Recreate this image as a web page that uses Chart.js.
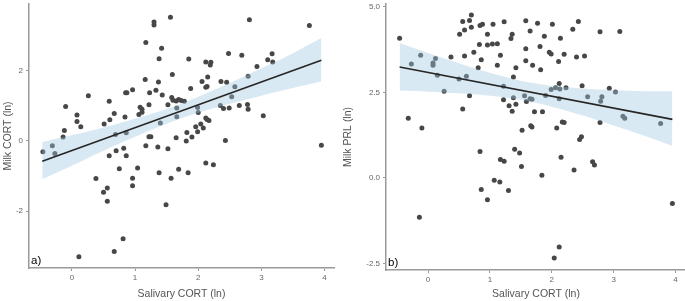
<!DOCTYPE html>
<html>
<head>
<meta charset="utf-8">
<script src="https://cdn.jsdelivr.net/npm/chart.js@4.4.1/dist/chart.umd.min.js"></script>
<style>
  html, body { margin: 0; padding: 0; background: #fff; overflow: hidden; }
  #panel_a { position: absolute; left: 0; top: 0; width: 340px; height: 301px; }
  #panel_b { position: absolute; left: 340px; top: 0; width: 350px; height: 301px; }
</style>
</head>
<body>
<div id="panel_a"><canvas id="chart_a"></canvas></div>
<div id="panel_b"><canvas id="chart_b"></canvas></div>
<script>
// panel a) salivary CORT vs milk CORT
let salivaryA = [-0.46, -0.31, -0.27, -0.14, -0.12, -0.10, 0.08, 0.08, 0.14, 0.26,
  0.38, 0.50, 0.56, 0.56, 0.51, 0.59, 0.60, 0.67, 0.69, 0.59,
  0.70, 0.75, 0.82, 0.84, 0.86, 0.86, 0.85, 0.87, 0.96, 0.96,
  0.96, 1.04, 1.08, 1.11, 1.11, 1.06, 1.16, 1.17, 1.30, 1.30,
  1.22, 1.23, 1.22, 1.25, 1.17, 1.33, 1.37, 1.38, 1.42, 1.43,
  1.40, 1.36, 1.38, 1.49, 1.52, 1.52, 1.56, 1.59, 1.57, 1.58,
  1.60, 1.65, 1.69, 1.73, 1.78, 1.66, 1.66, 1.65, 1.69, 1.82,
  1.81, 1.84, 1.85, 1.88, 1.90, 1.96, 1.99, 1.99, 2.00, 2.04,
  2.08, 2.12, 2.06, 2.12, 2.14, 2.17, 2.12, 2.14, 2.15, 2.12,
  2.24, 2.20, 2.19, 2.35, 2.40, 2.49, 2.36, 2.45, 2.43, 2.48,
  2.53, 2.58, 2.65, 2.69, 2.78, 2.79, 2.79, 2.81, 2.93, 3.03,
  3.10, 3.17, 3.18, 3.76, 3.95, 0.81, 0.67, 0.11];
let milkCortA = [-0.31, -0.14, -0.36, 0.11, 0.30, 0.98, 0.74, 0.55, 0.40, 1.29,
  -1.07, -1.46, -1.34, -1.72, 0.48, 1.13, 0.60, 0.78, 0.18, -0.42,
  -0.28, -0.79, -0.21, 0.68, 0.23, -0.42, 1.37, 1.37, 1.46, -1.06,
  -1.28, -0.77, 0.96, 0.90, 0.82, 0.75, 1.75, 2.80, 3.39, 3.30,
  1.03, 1.37, 0.12, 0.12, -0.14, 1.44, 1.68, 2.34, 2.64, 1.31,
  0.51, -0.17, -0.91, -1.82, 1.03, -0.22, 3.52, 1.89, -1.06, 1.24,
  1.16, 1.14, 1.18, 1.15, 1.13, 0.94, 0.69, 0.09, -0.81, 0.24,
  0.00, -0.91, 2.33, 1.49, 0.11, 0.40, 0.26, 0.95, 0.81, 0.48,
  0.37, 2.25, 1.69, 0.65, 0.61, 0.58, 1.53, 1.55, 1.82, -0.63,
  -0.68, 2.24, 2.16, 1.01, 0.92, 0.94, 1.69, 1.67, 0.01, 2.49,
  1.26, 1.54, 1.01, 2.44, 1.04, 0.90, 1.84, 3.45, 2.12, 0.72,
  2.31, 2.48, 2.25, 3.29, -0.12, -2.79, -3.15, -3.30];
let fitXA = [-0.47, 3.95];
let fitYA = [-0.58, 2.30];
let bandXA = [-0.47, 0, 0.5, 1, 1.5, 2, 2.5, 3, 3.5, 3.95];
let bandUpperA = [-0.03, 0.16, 0.38, 0.63, 0.91, 1.26, 1.65, 2.07, 2.50, 2.93];
let bandLowerA = [-1.09, -0.71, -0.28, 0.12, 0.49, 0.80, 1.06, 1.29, 1.51, 1.69];
let yTicksA = [-2, 0, 2];
let yLabelsA = ["-2", "0", "2"];

// panel b) salivary CORT vs milk PRL
let salivaryB = [-0.46, -0.32, -0.10, -0.27, -0.12, 0.08, 0.08, 0.12, 0.15, 0.26,
  0.37, 0.50, 0.62, 0.51, 0.56, 0.59, 0.59, 0.67, 0.70, 0.70,
  0.67, 0.56, 0.74, 0.81, 0.83, 0.84, 0.88, 0.86, 0.96, 0.96,
  1.04, 1.12, 1.05, 1.12, 1.17, 1.23, 1.22, 1.22, 1.34, 1.36,
  1.31, 1.36, 1.38, 1.42, 1.38, 1.42, 1.58, 1.77, 2.01, 2.43,
  2.34, 1.65, 1.88, 2.14, 2.78, 3.10, 1.58, 1.81, 1.96, 1.99,
  2.20, 1.58, 1.69, 2.11, 2.40, 2.53, 1.82, 2.12, 2.49, 2.93,
  1.99, 2.06, 2.13, 2.23, 3.03, 1.90, 2.12, 2.58, 2.81, 2.79,
  1.56, 1.59, 1.65, 1.68, 1.72, 1.85, 3.15, 3.18, 3.76, 2.78,
  2.17, 2.20, 1.66, 1.68, 1.52, 2.08, 2.48, 2.45, 0.84, 1.17,
  1.23, 1.40, 1.48, 1.51, 1.07, 1.16, 0.86, 1.30, 0.96, -0.14,
  1.84, 2.15, 2.36, 2.66, 2.69, 3.95, 2.12, 2.04];
let milkPrlB = [4.08, 1.74, 1.46, 3.33, 3.58, 3.36, 3.29, 3.49, 3.00, 2.53,
  3.53, 2.89, 2.97, 4.20, 4.57, 4.32, 3.56, 4.60, 4.76, 4.40,
  2.40, 2.01, 3.67, 3.22, 3.90, 4.45, 4.49, 3.45, 4.20, 3.88,
  3.91, 3.92, 4.49, 3.29, 3.58, 4.56, 2.68, 2.28, 4.07, 4.20,
  2.11, 1.95, 2.34, 3.22, 2.95, 2.15, 4.59, 4.52, 4.49, 4.57,
  4.34, 4.29, 4.14, 4.08, 4.27, 4.28, 3.77, 3.84, 3.67, 3.62,
  3.61, 3.42, 3.29, 3.40, 3.53, 3.56, 3.16, 2.76, 2.69, 2.62,
  2.58, 2.63, 2.60, 2.63, 2.51, 2.41, 2.31, 2.37, 2.37, 2.24,
  2.40, 2.23, 2.31, 2.30, 1.93, 1.93, 1.80, 1.74, 1.59, 1.62,
  1.63, 1.62, 1.52, 1.49, 1.39, 1.46, 1.20, 1.12, 0.77, 0.54,
  0.49, 0.84, 0.73, 0.33, -0.07, -0.12, -0.34, -0.37, -0.64, -1.15,
  0.08, 0.60, 0.23, 0.47, 0.38, -0.75, -2.02, -2.34];
let fitXB = [-0.46, 3.95];
let fitYB = [3.24, 1.71];
let bandXB = [-0.46, 0, 0.5, 1, 1.5, 2, 2.5, 3, 3.5, 3.95];
let bandUpperB = [3.93, 3.65, 3.35, 3.07, 2.84, 2.69, 2.61, 2.56, 2.53, 2.53];
let bandLowerB = [2.55, 2.52, 2.47, 2.40, 2.28, 2.08, 1.82, 1.53, 1.23, 0.93];
let yTicksB = [-2.5, 0, 2.5, 5];
let yLabelsB = ["-2.5", "0.0", "2.5", "5.0"];

let xTicks = [0, 1, 2, 3, 4];
let xTitle = "Salivary CORT (ln)";

Chart.defaults.font.family = '"Liberation Sans", Arial, sans-serif';

function toPoints(xs, ys) {
  return xs.map(function (x, i) {
    return { x: x, y: ys[i] };
  });
}

const panelLabel = {
  id: "panelLabel",
  afterDraw: function (chart, args, opts) {
    let ctx = chart.ctx;
    let area = chart.chartArea;
    ctx.save();
    ctx.font = '11.5px "Liberation Sans", Arial, sans-serif';
    ctx.fillStyle = "#000";
    ctx.textBaseline = "bottom";
    ctx.fillText(opts.text, area.left + 2, area.bottom - 1);
    ctx.restore();
  },
};

function drawPanel(id, p) {
  new Chart(document.getElementById(id), {
    type: "scatter",
    data: {
      datasets: [
        {
          data: toPoints(p.xs, p.ys),
          backgroundColor: "#474747",
          pointRadius: 2.5,
          pointBorderWidth: 0,
          order: 3,
        },
        {
          data: toPoints(p.bandX, p.upper),
          showLine: true,
          pointRadius: 0,
          borderWidth: 0,
          tension: 0.3,
          backgroundColor: "rgba(160, 200, 225, 0.4)",
          fill: "+1",
          order: 2,
        },
        {
          data: toPoints(p.bandX, p.lower),
          showLine: true,
          pointRadius: 0,
          borderWidth: 0,
          tension: 0.3,
          fill: false,
          order: 2,
        },
        {
          data: toPoints(p.fitX, p.fitY),
          showLine: true,
          pointRadius: 0,
          borderColor: "#262626",
          borderWidth: 1.6,
          fill: false,
          order: 1,
        },
      ],
    },
    options: {
      responsive: true,
      maintainAspectRatio: false,
      animation: false,
      layout: { padding: p.padding },
      plugins: {
        legend: { display: false },
        tooltip: { enabled: false },
        panelLabel: { text: p.letter },
      },
      scales: {
        x: {
          type: "linear",
          min: p.xMin,
          max: p.xMax,
          afterBuildTicks: function (scale) {
            scale.ticks = xTicks.map(function (v) { return { value: v }; });
          },
          afterFit: function (scale) {
            scale.height = p.xAxisHeight;
            scale.paddingLeft = 0;
            scale.paddingRight = 0;
          },
          ticks: { font: { size: 8 }, color: "#666", padding: 2 },
          grid: { drawOnChartArea: false, tickLength: 3, color: "#9a9a9a" },
          border: { color: "#9a9a9a", width: 1.5 },
          title: {
            display: true,
            text: xTitle,
            color: "#555",
            font: { size: 10.5 },
            padding: { top: 0, bottom: 1 },
          },
        },
        y: {
          type: "linear",
          min: p.yMin,
          max: p.yMax,
          afterBuildTicks: function (scale) {
            scale.ticks = p.yTicks.map(function (v) { return { value: v }; });
          },
          afterFit: function (scale) {
            scale.width = p.yAxisWidth;
            scale.paddingTop = 0;
            scale.paddingBottom = 0;
          },
          ticks: {
            font: { size: 8 },
            color: "#666",
            padding: 3,
            callback: function (v) { return p.yLabels[p.yTicks.indexOf(v)]; },
          },
          grid: { drawOnChartArea: false, tickLength: 3, color: "#9a9a9a" },
          border: { color: "#9a9a9a", width: 1.5 },
          title: {
            display: true,
            text: p.yTitle,
            color: "#555",
            font: { size: 10.5 },
            padding: { top: 2, bottom: 0 },
          },
        },
      },
    },
    plugins: [panelLabel],
  });
}

drawPanel("chart_a", {
  xs: salivaryA, ys: milkCortA,
  fitX: fitXA, fitY: fitYA,
  bandX: bandXA, upper: bandUpperA, lower: bandLowerA,
  yTicks: yTicksA, yLabels: yLabelsA,
  yTitle: "Milk CORT (ln)", letter: "a)",
  xMin: -0.68, xMax: 4.15, yMin: -3.62, yMax: 3.9,
  yAxisWidth: 29, xAxisHeight: 33,
  padding: { top: 0, right: 6, bottom: 0, left: 0 },
});

drawPanel("chart_b", {
  xs: salivaryB, ys: milkPrlB,
  fitX: fitXB, fitY: fitYB,
  bandX: bandXB, upper: bandUpperB, lower: bandLowerB,
  yTicks: yTicksB, yLabels: yLabelsB,
  yTitle: "Milk PRL (ln)", letter: "b)",
  xMin: -0.68, xMax: 4.17, yMin: -2.69, yMax: 5.08,
  yAxisWidth: 46, xAxisHeight: 31,
  padding: { top: 3, right: 0, bottom: 0, left: 0 },
});
</script>
</body>
</html>
